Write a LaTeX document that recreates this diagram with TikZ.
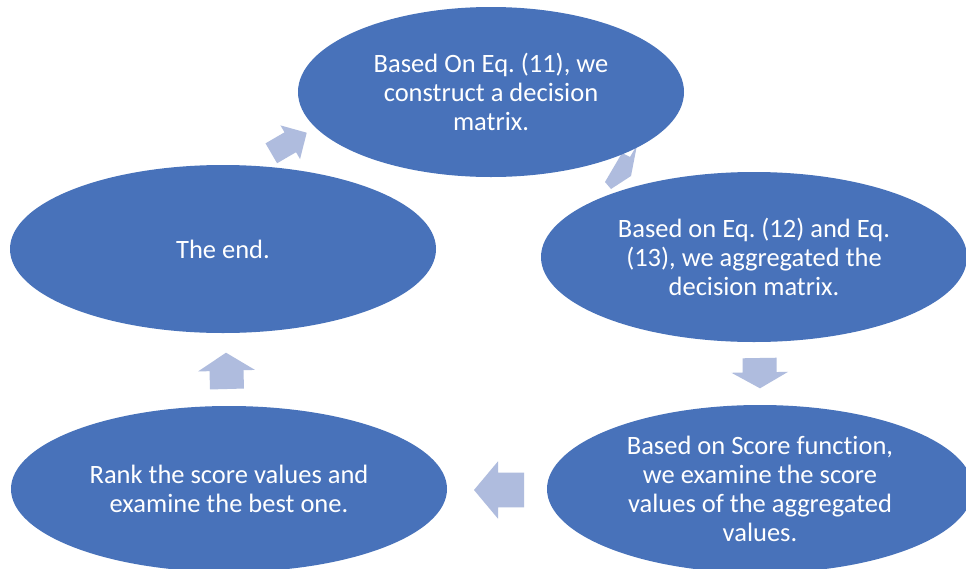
\documentclass[tikz,border=0pt]{standalone}
\usepackage{fontspec}
\setmainfont{Carlito}[Ligatures={NoCommon,NoRare,NoContextual}]
\usetikzlibrary{shapes.geometric,calc}

\definecolor{stageblue}{RGB}{72,114,186}
\definecolor{arrowblue}{RGB}{175,188,222}

\tikzset{
  stage/.style={ellipse, fill=stageblue, draw=none, inner sep=0pt,
    text=white, align=center,
    font=\fontsize{26.5}{29}\selectfont\frenchspacing},
  flowarrow/.style={fill=arrowblue, draw=none},
}

% block arrow: #1 name, #2 tail centre, #3 tip, #4 head length,
% #5 half width of the head, #6 half width of the shaft
\newcommand{\blockarrow}[6]{%
  \coordinate (#1-base) at ($(#3)!#4!(#2)$);
  \fill[flowarrow]
    ($(#2)!#6!90:(#3)$) -- ($(#1-base)!#6!90:(#3)$) --
    ($(#1-base)!#5!90:(#3)$) -- (#3) --
    ($(#1-base)!#5!-90:(#3)$) -- ($(#1-base)!#6!-90:(#3)$) --
    ($(#2)!#6!-90:(#3)$) -- cycle;
}

\begin{document}
\begin{tikzpicture}[x=1pt,y=-1pt]
  \useasboundingbox (0,0) rectangle (966,568);
  \fill[white] (0,0) rectangle (966,568);
  \clip (0,0) rectangle (966,568);

  % arrow ends of the cycle
  \coordinate (a1-tail) at (271.3,153.3);
  \coordinate (a1-tip)  at (306.7,132.7);
  \coordinate (a3-tail) at (759.5,358);
  \coordinate (a3-tip)  at (760,388.3);
  \coordinate (a4-tail) at (524,490);
  \coordinate (a4-tip)  at (474,490);
  \coordinate (a5-tail) at (227,389);
  \coordinate (a5-tip)  at (226,352.7);

  % arrows (behind the stages)
  \blockarrow{a1}{a1-tail}{a1-tip}{19pt}{19.5pt}{11.5pt}
  \fill[flowarrow] (605,182) -- (622,153) -- (630,157) -- (637,145)
    -- (631,176) -- (611,189) -- cycle;
  \blockarrow{a3}{a3-tail}{a3-tip}{16pt}{28.3pt}{17pt}
  \blockarrow{a4}{a4-tail}{a4-tip}{24pt}{28.7pt}{17.3pt}
  \blockarrow{a5}{a5-tail}{a5-tip}{18pt}{28.5pt}{17pt}

  % stages
  \node[stage, minimum width=386pt, minimum height=170pt] (construct) at (491,92)
    {Based On Eq. (11), we\\construct a decision\\matrix.};
  \node[stage, minimum width=426pt, minimum height=170pt] (aggregate) at (754,257)
    {Based on Eq. (12) and Eq.\\(13), we aggregated the\\decision matrix.};
  \node[stage, minimum width=426pt, minimum height=168pt] (score) at (760,489)
    {Based on Score function,\\we examine the score\\values of the aggregated\\values.};
  \node[stage, minimum width=436pt, minimum height=166pt] (rank) at (229,489)
    {Rank the score values and\\examine the best one.};
  \node[stage, minimum width=426pt, minimum height=168pt] (end) at (223,249)
    {The end.};
\end{tikzpicture}
\end{document}
